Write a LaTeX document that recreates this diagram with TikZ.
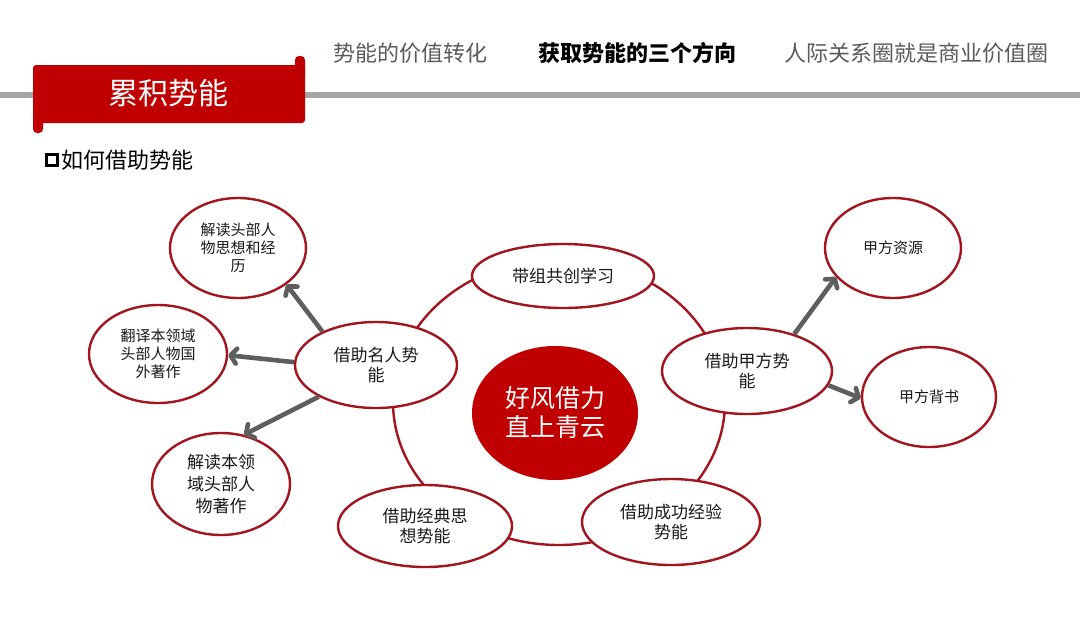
\documentclass[tikz,border=0pt]{standalone}
\usepackage{fontspec}
\usetikzlibrary{arrows.meta,shapes.geometric}
\newfontfamily\cjk{Noto Sans CJK SC}
\definecolor{bannerred}{HTML}{C00000}
\definecolor{rimred}{HTML}{A3151E}
\definecolor{arrowgray}{HTML}{5E5E5E}
\definecolor{tabgray}{HTML}{5A5A5A}
\definecolor{rulegray}{HTML}{A6A6A6}

\begin{document}
\begin{tikzpicture}[
    x=1pt, y=-1pt,
    bubble/.style={ellipse, draw=rimred, line width=2.4pt, fill=white, inner sep=0pt,
        align=center, text=black!90, font=\cjk\fontsize{15}{18}\selectfont},
    bigbubble/.style={bubble, font=\cjk\fontsize{17}{22}\selectfont},
    hub/.style={bubble, font=\cjk\fontsize{17}{20}\selectfont},
    centre/.style={ellipse, fill=bannerred, inner sep=0pt, align=center, text=white,
        font=\cjk\fontsize{25}{29}\selectfont},
    ring/.style={ellipse, draw=rimred, line width=2.4pt, inner sep=0pt},
    arr/.style={arrowgray, line width=4.6pt, -{Straight Barb[length=6pt,width=15pt,round]}},
    tab/.style={text=tabgray, font=\cjk\fontsize{22}{26}\selectfont},
    tabon/.style={text=black, font=\cjk\bfseries\fontsize{22}{26}\selectfont},
    txt/.style={text=black, inner sep=0pt, font=\cjk\fontsize{22}{26}\selectfont}
]

\useasboundingbox (0,0) rectangle (1080,625);

% ============================================================
% Header
% ============================================================

% Rule and banner
\draw[rulegray, line width=6pt] (0,95) -- (1080,95);
\fill[bannerred, rounded corners=4pt] (295,56) rectangle (305,80);
\fill[bannerred, rounded corners=4pt] (33,108) rectangle (43,133);
\fill[bannerred, rounded corners=3pt] (33,65) rectangle (305,123);
\node[text=white, font=\cjk\fontsize{30}{34}\selectfont] (title) at (168,93) {累积势能};

% Tabs
\node[tab] (tabvalue) at (410,53) {势能的价值转化};
\node[tabon] (tabways) at (637,53) {获取势能的三个方向};
\node[tab] (tabcircle) at (916,53) {人际关系圈就是商业价值圈};

% Subtitle
\node[draw=black, line width=3pt, minimum size=11pt, inner sep=0pt] (mark) at (52,160) {};
\node[txt, anchor=west] (subtitle) at (61,160) {如何借助势能};

% ============================================================
% Cycle
% ============================================================

\node[ring, minimum width=332pt, minimum height=286pt] (loop) at (559,402) {};

\node[centre, minimum width=166pt, minimum height=134pt] (wind) at (555,413) {好风借力\\直上青云};

\node[hub, minimum width=182pt, minimum height=64pt] (study) at (563,276) {带组共创学习};
\node[hub, minimum width=162pt, minimum height=86pt] (fame) at (376,365) {借助名人势\\能};
\node[hub, minimum width=170pt, minimum height=86pt] (client) at (747,371) {借助甲方势\\能};
\node[hub, minimum width=174pt, minimum height=82pt] (classic) at (425,526) {借助经典思\\想势能};
\node[hub, minimum width=178pt, minimum height=86pt] (success) at (671,522) {借助成功经验\\势能};

% ============================================================
% Branches
% ============================================================

\node[bubble, minimum width=136pt, minimum height=100pt] (thought) at (238,248) {解读头部人\\物思想和经\\历};
\node[bubble, minimum width=138pt, minimum height=98pt] (abroad) at (158,354) {翻译本领域\\头部人物国\\外著作};
\node[bigbubble, minimum width=138pt, minimum height=102pt] (works) at (221,484) {解读本领\\域头部人\\物著作};

\node[bubble, minimum width=136pt, minimum height=100pt] (resource) at (893,248) {甲方资源};
\node[bubble, minimum width=134pt, minimum height=100pt] (endorse) at (929,397) {甲方背书};

\draw[arr] (fame.148) -- (thought.323);
\draw[arr] (fame.178) -- (abroad.359);
\draw[arr] (fame.209) -- (works.65);
\draw[arr] (client.38) -- (resource.207);
\draw[arr] (client.350) -- (endorse.181);
\end{tikzpicture}
\end{document}
